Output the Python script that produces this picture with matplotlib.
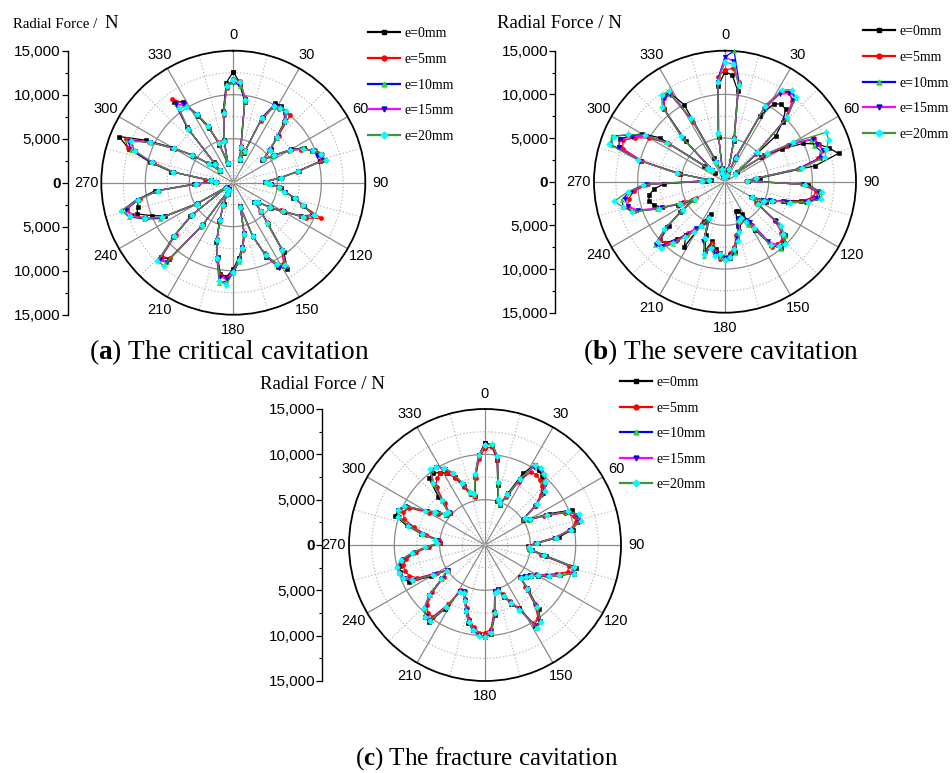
import numpy as np
import matplotlib
matplotlib.use("Agg")
import matplotlib.pyplot as plt
from matplotlib.lines import Line2D

plt.rcParams['font.family'] = ['Liberation Sans', 'DejaVu Sans']
plt.rcParams['mathtext.fontset'] = 'custom'
plt.rcParams['mathtext.rm'] = 'Liberation Serif'
plt.rcParams['mathtext.bf'] = 'Liberation Serif:bold'

# ---------------------------------------------------------------- data
angles_deg = list(range(0, 360, 4))
series_labels = ['e=0mm', 'e=5mm', 'e=10mm', 'e=15mm', 'e=20mm']
angle_labels = [str(a) for a in range(0, 360, 30)]

# (a) critical cavitation, radial force in N
crit_e0 = [12600, 11300, 9300, 4000, 2700, 3600, 8200, 10200, 10300, 9900,
           9000, 7000, 5800, 4200, 5400, 7600, 9000, 9600, 10400, 10200,
           7600, 5300, 3600, 4300, 5400, 6000, 7000, 8500, 9800, 8600,
           6700, 5200, 3500, 3200, 4600, 6200, 9800, 11500, 10800, 9200,
           6400, 2800, 5800, 7400, 8600, 9800, 10700, 10500, 8600, 7000,
           4600, 2700, 1400, 900, 5800, 11300, 11800, 9200, 6200, 900,
           4600, 8600, 10000, 11500, 11200, 11000, 9000, 4500, 2100, 2500,
           7200, 9800, 12500, 14000, 11000, 8000, 5500, 3400, 2000, 3200,
           8200, 11400, 10800, 8600, 6800, 4600, 2200, 5000, 8200, 11400]
crit_e5 = [11800, 11600, 9700, 4300, 2900, 3900, 7700, 9700, 9900, 10000,
           10100, 7400, 5500, 4400, 5700, 7300, 8600, 10000, 10600, 10300,
           7300, 5600, 3800, 4100, 5100, 5800, 7400, 8200, 10800, 9200,
           6300, 4900, 3700, 3400, 4400, 5900, 9300, 10800, 10600, 8800,
           6600, 3000, 6100, 7700, 8900, 10100, 10900, 10600, 9000, 6600,
           4400, 2900, 1600, 1100, 6200, 11200, 11700, 8800, 5800, 1100,
           4900, 9200, 10700, 12000, 12500, 10800, 8500, 4000, 1900, 3200,
           6800, 9300, 12600, 13200, 10600, 7600, 5700, 3600, 2200, 2900,
           7800, 11800, 10600, 8900, 7100, 4900, 2400, 4800, 7800, 10800]
crit_e10 = [11500, 11000, 9400, 4100, 2800, 3700, 8100, 9800, 10000, 10200,
            9300, 7100, 5600, 4300, 5500, 7400, 8900, 9700, 10200, 10700,
            7400, 5400, 3700, 4200, 5300, 6000, 7300, 8200, 9800, 8900,
            6400, 5000, 3600, 3300, 4500, 6100, 9400, 11200, 10400, 9000,
            6500, 2900, 6000, 7600, 9000, 10300, 11200, 11500, 8900, 6700,
            4500, 2800, 1500, 1000, 6100, 11800, 12200, 9100, 6000, 1000,
            4900, 9300, 11000, 12500, 13000, 11200, 8700, 4300, 2000, 2600,
            7000, 9600, 12200, 13000, 10400, 7900, 5600, 3500, 2100, 3000,
            8000, 11000, 10400, 8900, 7000, 4800, 2300, 4900, 8000, 11200]
crit_e15 = [11400, 11400, 9600, 4200, 2800, 3800, 8000, 9900, 10100, 10000,
            9100, 7300, 5600, 4300, 5600, 7500, 8700, 9800, 10000, 10500,
            7500, 5500, 3700, 4200, 5200, 5900, 7200, 8400, 9700, 8800,
            6500, 5000, 3600, 3300, 4500, 6000, 9500, 11300, 11000, 9000,
            6500, 2900, 6000, 7500, 8800, 10000, 11000, 10800, 8800, 6800,
            4500, 2800, 1500, 1000, 6000, 11800, 12000, 9000, 6000, 1000,
            4800, 9000, 10800, 12200, 12600, 11000, 8600, 4200, 2000, 2600,
            7000, 9500, 11800, 12800, 10500, 7800, 5600, 3500, 2100, 3000,
            8000, 11000, 10500, 8800, 7000, 4800, 2300, 4900, 8000, 10900]
crit_e20 = [11700, 11500, 9500, 4200, 2800, 3800, 8000, 9900, 10000, 10100,
            9200, 7200, 5600, 4300, 5600, 7500, 8800, 9800, 10500, 10800,
            7500, 5500, 3700, 4200, 5200, 5900, 7200, 8300, 9900, 8800,
            6500, 5000, 3600, 3300, 4500, 6000, 9500, 11000, 10500, 9000,
            6500, 2900, 6000, 7500, 8800, 10200, 11600, 11300, 8800, 6800,
            4500, 2800, 1500, 1000, 6000, 12300, 12400, 9000, 6000, 1000,
            4800, 9000, 10800, 12400, 13100, 11000, 8600, 4200, 2000, 2600,
            7000, 9500, 11800, 12500, 10500, 7800, 5600, 3500, 2100, 3000,
            8000, 10500, 10200, 8800, 7000, 4800, 2300, 4900, 8000, 11000]

# (b) severe cavitation
sev_e0 = [12600, 12200, 10500, 4800, 1400, 700, 2800, 8500, 10500, 11000,
          10800, 9500, 7800, 1800, 5000, 7500, 10000, 11500, 12500, 13400,
          10500, 4000, 2600, 9500, 10900, 10500, 9000, 7000, 5800, 5200,
          3600, 4500, 7200, 9200, 9500, 9900, 9000, 6500, 4200, 3700,
          3600, 5300, 6800, 8100, 8800, 8600, 8400, 7800, 7000, 8200,
          6500, 4000, 5200, 8800, 7600, 8500, 9800, 10000, 8200, 6200,
          4200, 6000, 7800, 8600, 9000, 8800, 8200, 7000, 2200, 1600,
          5200, 9900, 12800, 13000, 12000, 11000, 9000, 3000, 1500, 6500,
          10800, 12000, 12100, 10000, 3000, 1100, 700, 1600, 5200, 11000]
sev_e5 = [12800, 13000, 11500, 5200, 1600, 900, 3200, 10000, 12200, 12500,
          12000, 9800, 4800, 1500, 5200, 8200, 11300, 11600, 11800, 11000,
          8500, 3400, 2400, 8800, 10500, 10200, 9200, 7200, 6000, 4900,
          3500, 4300, 7300, 8700, 9400, 9300, 9200, 5800, 5400, 4800,
          4900, 5700, 6200, 7600, 8200, 9000, 8900, 8000, 7200, 8300,
          7100, 4700, 5300, 6400, 7200, 8800, 9800, 10000, 8600, 6100,
          3800, 5400, 8200, 10800, 11500, 11200, 10500, 8800, 2400, 1800,
          5300, 9800, 12300, 12600, 11500, 10000, 7800, 2600, 2000, 7000,
          10800, 11800, 11700, 7800, 2400, 1000, 600, 1500, 5600, 12000]
sev_e10 = [14300, 15000, 11500, 5100, 1500, 800, 3100, 9600, 12200, 12800,
           12500, 10200, 5000, 1500, 5600, 8600, 11000, 11000, 11500, 11200,
           8600, 3500, 2500, 9000, 10800, 11000, 9600, 7600, 5400, 4600,
           3400, 4500, 7800, 9300, 9600, 10000, 8600, 5200, 5600, 4300,
           4700, 5800, 6300, 8200, 8700, 8400, 8700, 8200, 7400, 8800,
           6800, 4600, 5700, 6600, 7400, 9300, 10400, 10800, 8700, 6000,
           4100, 5800, 8400, 11000, 12000, 12000, 11000, 9200, 2600, 1800,
           5600, 10200, 13600, 14000, 12200, 10600, 8200, 2500, 2000, 7000,
           11000, 12000, 11800, 8000, 2500, 1000, 600, 1500, 5500, 11800]
sev_e15 = [14300, 13800, 11200, 5000, 1500, 800, 3000, 9400, 11800, 12500,
           12200, 9800, 5000, 1500, 5400, 8400, 11200, 11400, 11800, 11300,
           8800, 3500, 2500, 8900, 10700, 10600, 9400, 7400, 5600, 4800,
           3500, 4400, 7400, 8900, 9700, 9600, 8400, 5500, 5000, 4500,
           4400, 5400, 6600, 7800, 8400, 8700, 8200, 8400, 7600, 8400,
           7200, 4400, 5600, 6300, 7600, 9000, 10200, 10600, 8400, 6000,
           4000, 5600, 8000, 10500, 11500, 11600, 10800, 9000, 2500, 1800,
           5500, 10000, 12800, 12900, 11800, 10400, 8000, 2500, 2000, 7000,
           11000, 11800, 11800, 8000, 2500, 1000, 600, 1500, 5500, 11500]
sev_e20 = [13700, 13500, 11200, 5000, 1500, 800, 3000, 9800, 12400, 13000,
           12600, 10300, 5000, 1500, 5800, 9000, 12900, 12800, 12200, 11800,
           9000, 3600, 2500, 9200, 11200, 11200, 9800, 7800, 5800, 5000,
           3600, 4600, 8200, 9000, 9900, 9600, 9000, 6200, 5200, 4500,
           4800, 6000, 7000, 7800, 8600, 9000, 8300, 8600, 7800, 8600,
           6800, 4500, 5800, 6800, 7800, 9200, 10500, 10400, 8800, 5800,
           4000, 5700, 8200, 11200, 12000, 12900, 11200, 9400, 2600, 1800,
           5600, 10300, 14000, 13700, 12400, 10600, 8000, 2500, 2000, 7200,
           11200, 12300, 12200, 8200, 2500, 1000, 600, 1500, 5600, 11500]

# (c) fracture cavitation
frac_e0 = [11300, 11000, 9500, 6800, 5000, 4700, 6300, 9000, 10400, 10200,
           9800, 9300, 8600, 7000, 5000, 5700, 7900, 10300, 10600, 10500,
           9800, 8200, 5800, 4700, 5200, 6800, 10300, 10300, 8900, 7900,
           6800, 6100, 5700, 5200, 6900, 9200, 10400, 10500, 7900, 7100,
           6100, 5100, 5200, 7800, 9800, 10200, 10000, 9500, 8800, 7600,
           6500, 5600, 5800, 8300, 10500, 10300, 9600, 8300, 6100, 4900,
           6900, 9300, 9800, 9800, 9700, 9200, 7800, 6300, 5000, 5300,
           7200, 8900, 10400, 10300, 9600, 7400, 6300, 5400, 5200, 7400,
           9600, 9800, 9400, 9000, 8200, 6900, 5800, 5500, 7600, 9900]
frac_e5 = [10700, 10800, 9600, 6900, 5100, 4700, 5800, 7900, 9500, 9600,
           9400, 9000, 8300, 7000, 5100, 5500, 7300, 9500, 10300, 10400,
           9400, 7700, 5500, 4700, 4900, 6300, 9500, 9600, 8400, 7500,
           6500, 5900, 5500, 5200, 6400, 8500, 10000, 10300, 7900, 6800,
           5800, 5100, 5200, 7300, 9300, 9700, 9700, 9100, 8300, 7200,
           6300, 5500, 5600, 7700, 9800, 9800, 9200, 7800, 5800, 4900,
           6100, 8300, 9000, 9300, 9300, 8800, 7600, 6200, 5000, 5100,
           6600, 8100, 9400, 9700, 9300, 7100, 6200, 5300, 5200, 6400,
           8300, 9100, 9300, 9000, 8100, 6800, 5800, 5400, 7500, 9500]
frac_e10 = [11100, 11200, 9900, 7100, 5200, 4800, 6000, 8200, 10300, 10500,
            10200, 9600, 8900, 7200, 5200, 5600, 7500, 9800, 10800, 10800,
            9600, 7900, 5600, 4800, 5000, 6500, 10000, 10300, 8800, 7800,
            6700, 6000, 5600, 5300, 6600, 8800, 10400, 10800, 8100, 7000,
            5900, 5200, 5300, 7500, 9600, 10100, 10000, 9400, 8600, 7500,
            6500, 5700, 5800, 8000, 10200, 10200, 9600, 8200, 6000, 5000,
            6500, 8800, 9700, 10000, 10000, 9400, 8000, 6500, 5200, 5400,
            7000, 8600, 10000, 10400, 9800, 7500, 6500, 5500, 5400, 6800,
            8800, 10200, 10200, 9600, 8700, 7200, 6000, 5600, 7800, 9900]
frac_e15 = [11000, 11100, 9800, 7000, 5200, 4800, 6000, 8200, 10200, 10400,
            10100, 9500, 8800, 7200, 5200, 5600, 7500, 9800, 10700, 10700,
            9500, 7800, 5600, 4800, 5000, 6500, 10000, 10200, 8700, 7700,
            6600, 6000, 5600, 5300, 6600, 8800, 10400, 10700, 8000, 6900,
            5900, 5200, 5300, 7500, 9600, 10100, 10000, 9400, 8600, 7500,
            6500, 5700, 5800, 8000, 10200, 10200, 9600, 8200, 6000, 5000,
            6500, 8800, 9600, 9900, 9900, 9300, 8000, 6500, 5200, 5400,
            7000, 8600, 10000, 10300, 9800, 7500, 6500, 5500, 5400, 6800,
            8800, 10200, 10100, 9500, 8600, 7200, 6000, 5600, 7800, 9900]
frac_e20 = [11000, 11200, 9900, 7100, 5300, 4900, 6100, 8300, 10400, 10500,
            10200, 9600, 8900, 7300, 5300, 5700, 7600, 9900, 10900, 10900,
            9600, 7900, 5700, 4900, 5100, 6600, 10100, 10300, 8800, 7800,
            6700, 6100, 5700, 5400, 6700, 8900, 10500, 10800, 8100, 7000,
            6000, 5300, 5400, 7600, 9700, 10200, 10100, 9500, 8700, 7600,
            6600, 5800, 5900, 8100, 10300, 10300, 9700, 8300, 6100, 5100,
            6600, 8900, 9700, 10000, 10000, 9400, 8100, 6600, 5300, 5500,
            7100, 8700, 10100, 10400, 9900, 7600, 6600, 5600, 5500, 6900,
            8900, 10300, 10200, 9600, 8700, 7300, 6100, 5700, 7900, 10000]

# ---------------------------------------------------------------- styling
W, H = 952, 773
R_MAX = 15000
line_styles = [
    dict(color='black', marker='s', mfc='black', mec='black'),
    dict(color='red', marker='o', mfc='red', mec='red'),
    dict(color='blue', marker='^', mfc='#22dd22', mec='#22dd22'),
    dict(color='magenta', marker='v', mfc='blue', mec='blue'),
    dict(color='#3a9a3a', marker='D', mfc='cyan', mec='cyan'),
]
GRID_SOLID = '#8a8a8a'
GRID_DOT = '#b8b8b8'
SERIF = ['Liberation Serif', 'DejaVu Serif']

fig = plt.figure(figsize=(W / 100, H / 100), dpi=100)
fig.patch.set_facecolor('white')


def draw_panel(center, radius, spine_x, series, title_pos, legend_pos,
               legend_step, caption, caption_pos, caption_size,
               split_title=False):
    cx, cy = center
    rect = [(cx - radius) / W, 1 - (cy + radius) / H, 2 * radius / W, 2 * radius / H]
    ax = fig.add_axes(rect, projection='polar')
    ax.set_theta_zero_location('N')
    ax.set_theta_direction(-1)
    ax.set_ylim(0, R_MAX)
    ax.grid(False)
    ax.set_yticks([])
    ax.set_xticks(np.deg2rad(np.arange(0, 360, 30)))
    ax.set_xticklabels(angle_labels, fontsize=10.5)
    ax.tick_params(axis='x', pad=4, length=0)
    ax.spines['polar'].set_linewidth(1.3)

    t = np.linspace(0, 2 * np.pi, 361)
    for r in (5000, 10000):
        ax.plot(t, np.full_like(t, r), color=GRID_SOLID, lw=0.9, zorder=1)
    for r in (2500, 7500, 12500):
        ax.plot(t, np.full_like(t, r), color=GRID_DOT, lw=0.8,
                ls=(0, (1.2, 1.8)), zorder=1)
    for a in range(0, 360, 30):
        ax.plot([np.deg2rad(a)] * 2, [0, R_MAX], color=GRID_SOLID, lw=0.9, zorder=1)
    for a in range(15, 360, 30):
        ax.plot([np.deg2rad(a)] * 2, [0, R_MAX], color=GRID_DOT, lw=0.8,
                ls=(0, (1.2, 1.8)), zorder=1)

    th = np.deg2rad(angles_deg + [angles_deg[0]])
    handles = []
    for vals, st, lab in zip(series, line_styles, series_labels):
        ax.plot(th, list(vals) + [vals[0]], lw=0.9, ms=3.0, mew=0.4,
                zorder=3, clip_on=False, **st)
        handles.append(Line2D([], [], lw=1.6, ms=3.5, label=lab, **st))

    # mirrored radial scale on the left
    lax = fig.add_axes([spine_x / W, rect[1], 0.0005, rect[3]])
    lax.set_ylim(-R_MAX, R_MAX)
    for s in ('top', 'right', 'bottom'):
        lax.spines[s].set_visible(False)
    lax.spines['left'].set_linewidth(1.0)
    lax.patch.set_visible(False)
    lax.set_xticks([])
    major = list(range(-R_MAX, R_MAX + 1, 5000))
    lax.set_yticks(major)
    lax.set_yticks(list(range(-12500, 12501, 5000)), minor=True)
    lax.set_yticklabels([f"{abs(v):,}" for v in major], fontsize=11)
    for lbl, v in zip(lax.get_yticklabels(), major):
        if v == 0:
            lbl.set_fontweight('bold')
    lax.tick_params(axis='y', which='major', direction='out', length=4,
                    width=0.9, pad=1)
    lax.tick_params(axis='y', which='minor', direction='out', length=2.5,
                    width=0.8)

    # axis title
    tx, ty = title_pos
    if split_title:
        fig.text(tx / W, 1 - ty / H, 'Radial Force /', family=SERIF,
                 fontsize=10.7, va='baseline')
        fig.text((tx + 92) / W, 1 - ty / H, 'N', family=SERIF,
                 fontsize=13.5, va='baseline')
    else:
        fig.text(tx / W, 1 - ty / H, 'Radial Force / N', family=SERIF,
                 fontsize=13.5, va='baseline')

    lx, ly = legend_pos
    ax.legend(handles=handles, loc='upper left',
              bbox_to_anchor=(lx / W, 1 - ly / H),
              bbox_transform=fig.transFigure, frameon=False,
              borderpad=0, borderaxespad=0, handlelength=2.3,
              handletextpad=0.35, labelspacing=legend_step,
              numpoints=1, prop={'family': SERIF, 'size': 10})

    px, py = caption_pos
    fig.text(px / W, 1 - py / H, caption, family=SERIF, fontsize=caption_size,
             ha='center', va='baseline')


draw_panel((233.3, 182.7), 132, 67.7,
           [crit_e0, crit_e5, crit_e10, crit_e15, crit_e20],
           (12.7, 27.5), (368, 27), 0.92,
           r'($\mathbf{a}$) The critical cavitation', (229, 359), 19.7,
           split_title=True)
draw_panel((725, 181.7), 131, 555,
           [sev_e0, sev_e5, sev_e10, sev_e15, sev_e20],
           (497, 28), (863, 25), 0.92,
           r'($\mathbf{b}$) The severe cavitation', (721, 359), 19.7)
draw_panel((485, 545), 136, 322.3,
           [frac_e0, frac_e5, frac_e10, frac_e15, frac_e20],
           (260, 389), (620, 376), 0.9,
           r'($\mathbf{c}$) The fracture cavitation', (487, 765), 18)

fig.savefig('out.png', dpi=100, facecolor='white')
